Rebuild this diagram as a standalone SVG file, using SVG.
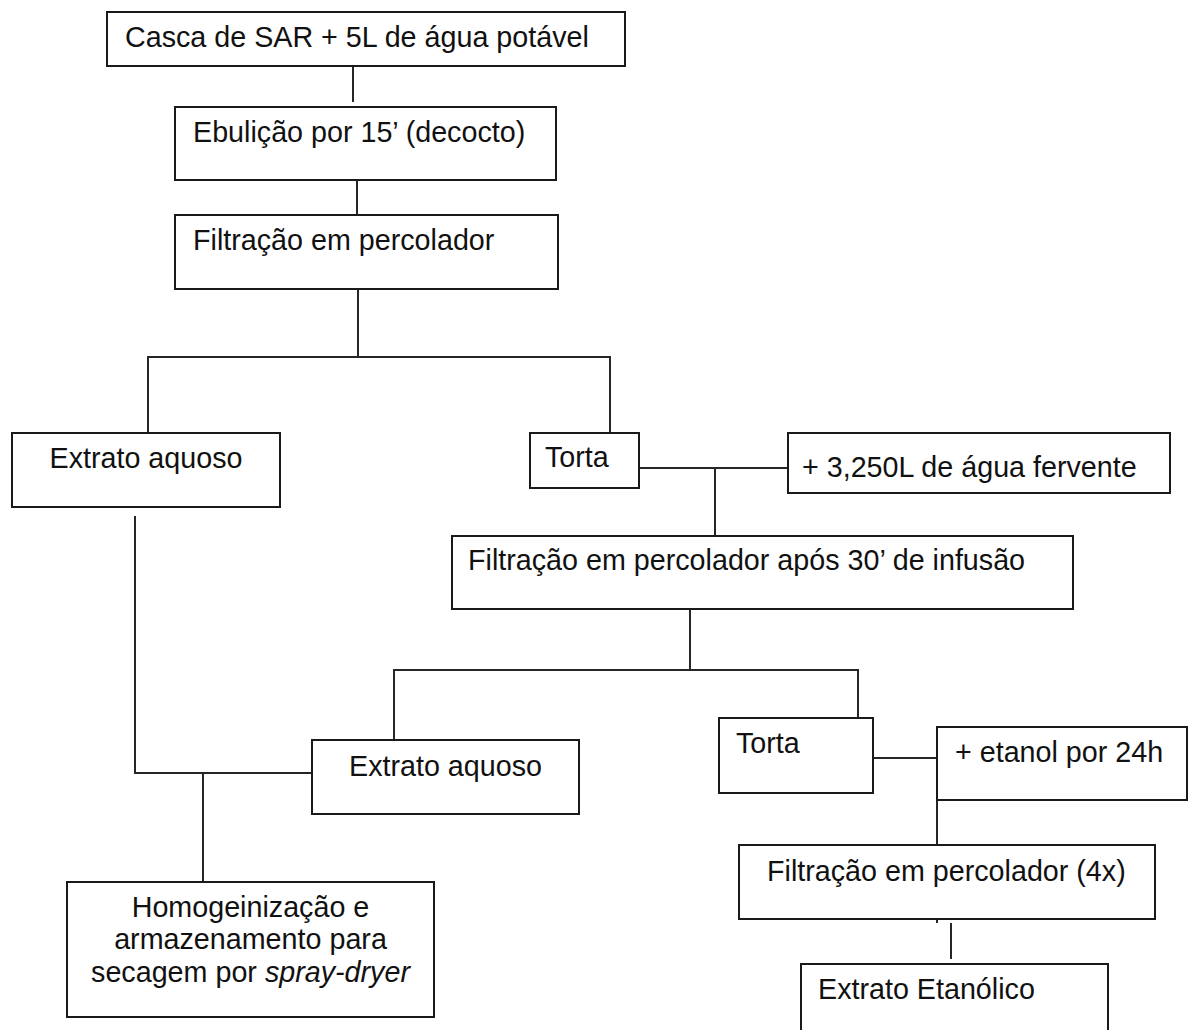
<svg xmlns="http://www.w3.org/2000/svg" width="1189" height="1030" viewBox="0 0 1189 1030">
  <style>
    .box { fill: #ffffff; stroke: #1a1a1a; stroke-width: 2; }
    .lbl { font-family: "Liberation Sans", Arial, sans-serif; font-size: 28.7px; fill: #111111; }
    .mid { text-anchor: middle; }
    .link { fill: none; stroke: #262626; stroke-width: 2; }
  </style>
  <rect width="1189" height="1030" fill="#ffffff"/>

  <!-- connectors -->
  <g id="connectors">
    <path class="link" d="M353 66 V102"/>
    <path class="link" d="M357 179 V215"/>
    <path class="link" d="M358 289 V357 M148 432 V357 H610 V432"/>
    <path class="link" d="M639 468 H788 M715 468 V536"/>
    <path class="link" d="M690 609 V670 M394 740 V670 H858 V718"/>
    <path class="link" d="M873 758 H937 M937 800 V845"/>
    <path class="link" d="M937 919 V923 M951 923 V959"/>
    <path class="link" d="M135 516 V773 H312 M203 773 V882"/>
  </g>

  <g id="casca">
    <rect class="box" x="107" y="12" width="518" height="54"/>
    <text class="lbl" x="125" y="47">Casca de SAR + 5L de água potável</text>
  </g>

  <g id="ebulicao">
    <rect class="box" x="175" y="107" width="381" height="73"/>
    <text class="lbl" x="193" y="142">Ebulição por 15’ (decocto)</text>
  </g>

  <g id="filtracao1">
    <rect class="box" x="175" y="215" width="383" height="74"/>
    <text class="lbl" x="193" y="250">Filtração em percolador</text>
  </g>

  <g id="extrato-aquoso-1">
    <rect class="box" x="12" y="433" width="268" height="74"/>
    <text class="lbl mid" x="146" y="468">Extrato aquoso</text>
  </g>

  <g id="torta-1">
    <rect class="box" x="530" y="433" width="109" height="55"/>
    <text class="lbl" x="545" y="467">Torta</text>
  </g>

  <g id="agua-fervente">
    <rect class="box" x="788" y="433" width="382" height="60"/>
    <text class="lbl" x="802" y="477">+ 3,250L de água fervente</text>
  </g>

  <g id="filtracao-infusao">
    <rect class="box" x="452" y="536" width="621" height="73"/>
    <text class="lbl" x="468" y="570">Filtração em percolador após 30’ de infusão</text>
  </g>

  <g id="extrato-aquoso-2">
    <rect class="box" x="312" y="740" width="267" height="74"/>
    <text class="lbl" x="349" y="776">Extrato aquoso</text>
  </g>

  <g id="torta-2">
    <rect class="box" x="719" y="718" width="154" height="75"/>
    <text class="lbl" x="736" y="753">Torta</text>
  </g>

  <g id="etanol">
    <rect class="box" x="937" y="727" width="250" height="73"/>
    <text class="lbl" x="955" y="762">+ etanol por 24h</text>
  </g>

  <g id="filtracao-4x">
    <rect class="box" x="739" y="845" width="416" height="74"/>
    <text class="lbl" x="767" y="881">Filtração em percolador (4x)</text>
  </g>

  <g id="extrato-etanolico">
    <rect class="box" x="801" y="964" width="307" height="80"/>
    <text class="lbl" x="818" y="999">Extrato Etanólico</text>
  </g>

  <g id="homogeneizacao">
    <rect class="box" x="67" y="882" width="367" height="135"/>
    <text class="lbl mid" x="250.5" y="917">Homogeinização e</text>
    <text class="lbl mid" x="250.5" y="949">armazenamento para</text>
    <text class="lbl mid" x="250.5" y="982">secagem por <tspan font-style="italic">spray-dryer</tspan></text>
  </g>
</svg>
